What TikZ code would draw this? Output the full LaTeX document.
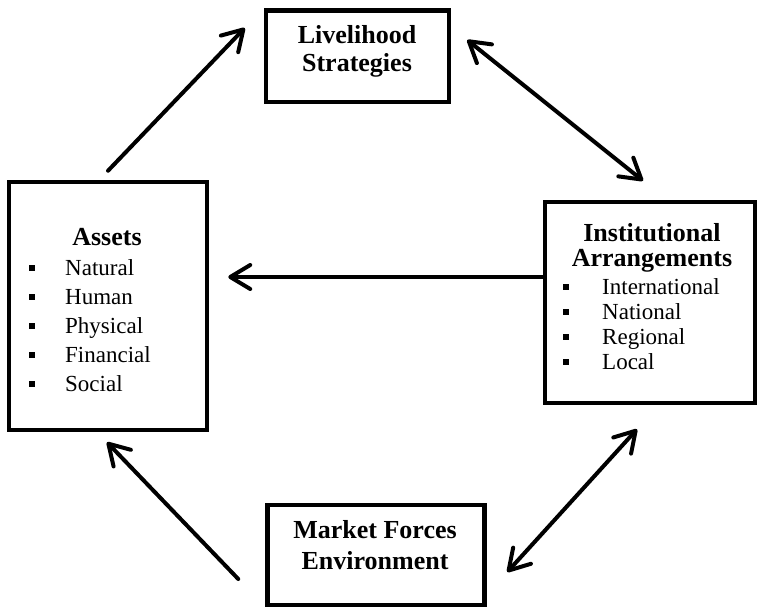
\documentclass[tikz,border=0pt]{standalone}
\usepackage{fontspec}
\setmainfont{Liberation Serif}
\usetikzlibrary{arrows.meta}

\newcommand\sqbox{\rule[4.5pt]{6pt}{6pt}}

\begin{document}
\begin{tikzpicture}[x=1pt, y=-1pt,
    box/.style = {shape=rectangle, draw, line width=4.5pt, inner sep=0pt},
    heading/.style = {font=\fontsize{26}{28}\selectfont\bfseries, align=center, inner sep=0pt},
    item/.style = {font=\fontsize{23}{26}\selectfont, inner sep=0pt, anchor=base west},
    link/.style = {line width=4pt, line cap=round,
      -{Straight Barb[length=20pt, width=24pt, round]}},
    twoway/.style = {link,
      {Straight Barb[length=20pt, width=24pt, round]}-{Straight Barb[length=20pt, width=24pt, round]}}]
  \useasboundingbox (0,0) rectangle (764,608);

  \node[box, minimum width=183pt, minimum height=91.5pt] (liv) at (357.5,56) {};
  \node[box, minimum width=198pt, minimum height=248pt] (assets) at (108,306) {};
  \node[box, minimum width=210pt, minimum height=201pt] (inst) at (650,302.5) {};
  \node[box, minimum width=217pt, minimum height=100pt] (market) at (376,555) {};

  \node[heading] (livtitle) at (357,51) {Livelihood\\Strategies};
  \node[heading, font=\fontsize{26}{31}\selectfont\bfseries] (markettitle) at (375,545) {Market Forces\\Environment};
  \node[heading, anchor=base] (assetstitle) at (107,245) {Assets};
  \node[heading, font=\fontsize{26}{25}\selectfont\bfseries] (insttitle) at (652,248) {Institutional\\Arrangements};

  % bullet lists
  \foreach \name [count=\i] in {Natural,Human,Physical,Financial,Social}
    \node[item] (asset\i) at (28.5,{275+29*(\i-1)}) {\makebox[36.5pt][l]{\sqbox}\name};
  \foreach \name [count=\i] in {International,National,Regional,Local}
    \node[item] (inst\i) at (563,{294+25*(\i-1)}) {\makebox[39pt][l]{\sqbox}\name};

  \draw[link] ([yshift=9pt]assets.north) -- ([xshift=-19pt, yshift=28pt]liv.west);
  \draw[twoway] ([xshift=16pt, yshift=16pt]liv.east) -- ([xshift=-7pt, yshift=19pt]inst.north);
  \draw[link] ([yshift=25.5pt]inst.west) -- ([xshift=19pt, yshift=29pt]assets.east);
  \draw[link] ([xshift=-27pt, yshift=-24pt]market.west) -- ([xshift=-1pt, yshift=-10pt]assets.south);
  \draw[twoway] ([xshift=20.5pt, yshift=-17pt]market.east) -- ([xshift=-13pt, yshift=-24pt]inst.south);
\end{tikzpicture}
\end{document}
